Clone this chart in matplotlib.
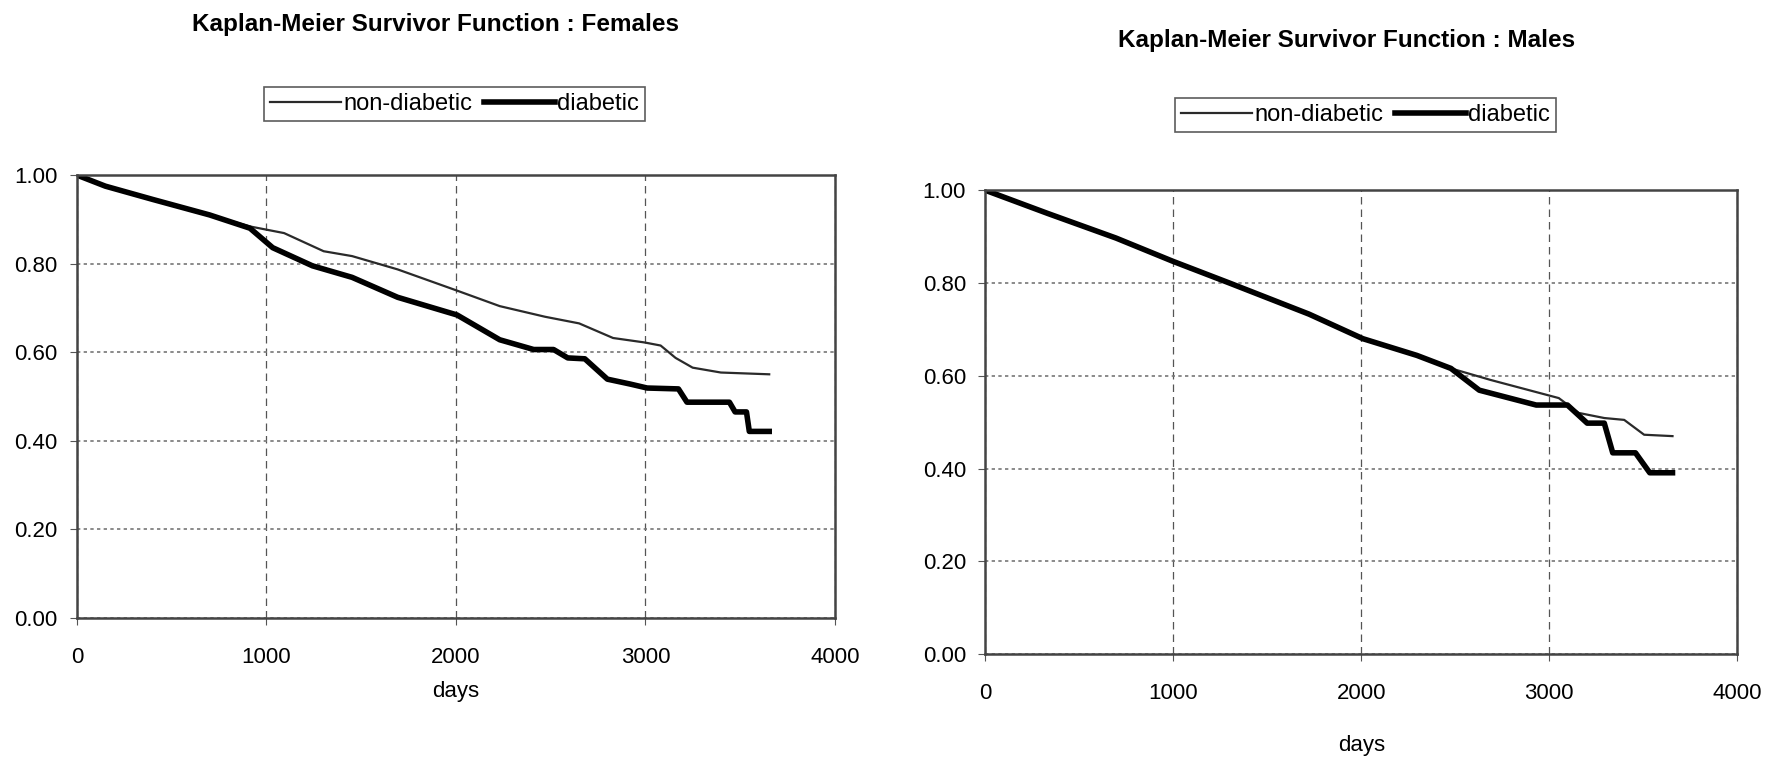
import matplotlib
matplotlib.use("Agg")
import matplotlib.pyplot as plt
from matplotlib.ticker import FormatStrFormatter

# Females (days, survival)
fem_nd_days = [0, 150, 400, 700, 913, 1093, 1302, 1452, 1692, 2006, 2231, 2470, 2650, 2829, 2994, 3080, 3159, 3249, 3398, 3653]
fem_nd_surv = [1.00, 0.975, 0.945, 0.91, 0.884, 0.869, 0.828, 0.817, 0.787, 0.739, 0.704, 0.680, 0.665, 0.632, 0.622, 0.615, 0.587, 0.565, 0.554, 0.550]
fem_d_days = [0, 150, 400, 700, 913, 1033, 1243, 1452, 1692, 2006, 2231, 2410, 2515, 2590, 2680, 2799, 2919, 3009, 3174, 3219, 3443, 3473, 3533, 3548, 3653]
fem_d_surv = [1.00, 0.975, 0.945, 0.91, 0.88, 0.836, 0.795, 0.769, 0.724, 0.684, 0.628, 0.606, 0.606, 0.587, 0.585, 0.539, 0.528, 0.519, 0.517, 0.487, 0.487, 0.465, 0.465, 0.421, 0.421]

# Males
mal_nd_days = [0, 332, 695, 997, 1299, 1722, 2009, 2296, 2477, 2689, 3051, 3157, 3293, 3399, 3505, 3656]
mal_nd_surv = [1.00, 0.95, 0.897, 0.847, 0.80, 0.733, 0.680, 0.644, 0.616, 0.591, 0.552, 0.520, 0.509, 0.505, 0.473, 0.470]
mal_d_days = [0, 332, 695, 997, 1299, 1722, 2009, 2296, 2477, 2628, 2931, 3097, 3202, 3293, 3338, 3459, 3535, 3656]
mal_d_surv = [1.00, 0.95, 0.897, 0.847, 0.80, 0.733, 0.680, 0.644, 0.616, 0.569, 0.537, 0.537, 0.498, 0.498, 0.434, 0.434, 0.391, 0.391]

x_ticks = [0, 1000, 2000, 3000, 4000]
y_ticks = [0.0, 0.2, 0.4, 0.6, 0.8, 1.0]

plt.rcParams["font.family"] = ["Liberation Sans Narrow", "Liberation Sans", "DejaVu Sans"]

fig = plt.figure(figsize=(17.69, 7.58), dpi=100)

panels = [
    # axes rect, title, title pos, legend center, days label y, data
    ([0.0435, 0.185, 0.4285, 0.584], "Kaplan-Meier Survivor Function : Females", (0.246, 0.968), (0.257, 0.863), 0.088,
     fem_nd_days, fem_nd_surv, fem_d_days, fem_d_surv),
    ([0.557, 0.137, 0.425, 0.612], "Kaplan-Meier Survivor Function : Males", (0.761, 0.947), (0.772, 0.848), 0.017,
     mal_nd_days, mal_nd_surv, mal_d_days, mal_d_surv),
]

for rect, title, tpos, lc, dy, nd_x, nd_y, d_x, d_y in panels:
    ax = fig.add_axes(rect)
    ax.plot(nd_x, nd_y, color="#2a2a2a", linewidth=1.6, label="non-diabetic")
    ax.plot(d_x, d_y, color="black", linewidth=4, label="diabetic")
    ax.set_xlim(0, 4000)
    ax.set_ylim(0, 1.0)
    ax.set_xticks(x_ticks)
    ax.set_yticks(y_ticks)
    ax.yaxis.set_major_formatter(FormatStrFormatter("%.2f"))
    ax.tick_params(labelsize=16, length=5, color="#555555")
    ax.tick_params(axis="y", pad=9)
    ax.tick_params(axis="x", pad=16)
    ax.xaxis.grid(True, linestyle=(0, (6, 4)), color="#555555", linewidth=0.9)
    ax.yaxis.grid(True, linestyle=(0, (2, 2)), color="#777777", linewidth=1.2)
    for s in ax.spines.values():
        s.set_color("#444444")
        s.set_linewidth(1.8)
    cx = rect[0] + rect[2] / 2
    fig.text(tpos[0], tpos[1], title, ha="center", va="center", fontsize=17.5, fontweight="bold")
    fig.text(cx, dy, "days", ha="center", va="center", fontsize=16)
    h, l = ax.get_legend_handles_labels()
    leg = fig.legend(h, l, loc="center", bbox_to_anchor=lc, ncol=2, fontsize=17, frameon=True,
                     fancybox=False, edgecolor="#333333", handlelength=3.0, handletextpad=0.1,
                     columnspacing=0.5, borderpad=0.25, borderaxespad=0)
    leg.get_frame().set_linewidth(1.2)

fig.savefig("out.png", dpi=100)
